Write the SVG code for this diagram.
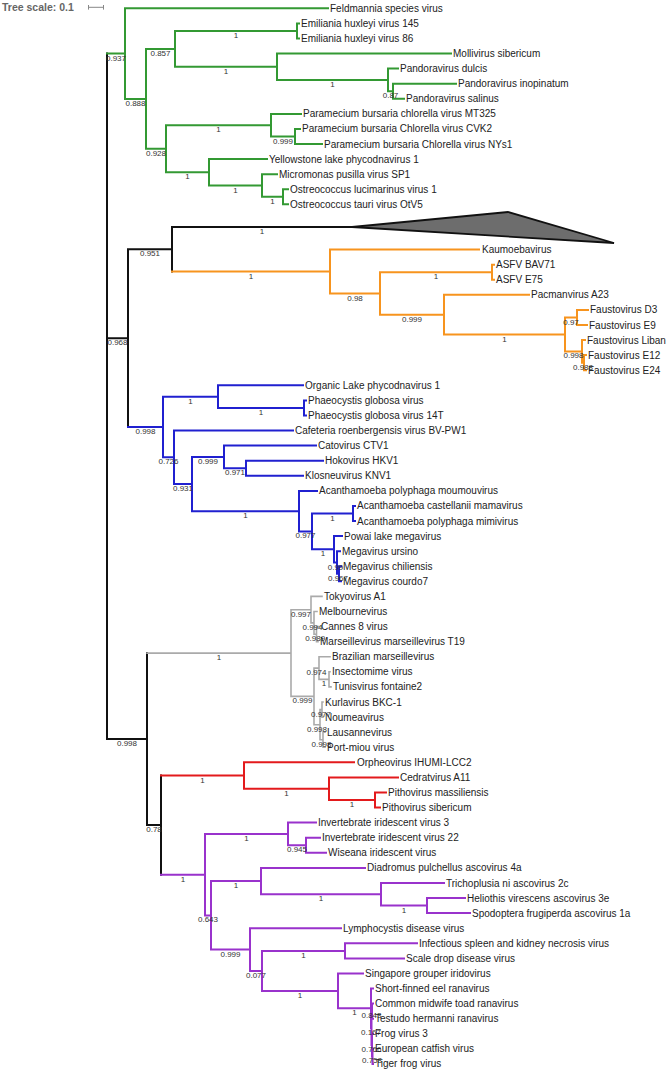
<svg xmlns="http://www.w3.org/2000/svg" width="666" height="1071" viewBox="0 0 666 1071">
<style>
.e{fill:none;stroke-width:2;stroke-linecap:square}
.k{stroke:#111}.g{stroke:#339933}.o{stroke:#f7941e}.b{stroke:#2020d0}.gr{stroke:#aaaaaa;stroke-width:1.6}.r{stroke:#e31a1c}.p{stroke:#9932cc}
.t{font-family:"Liberation Sans",Arial,sans-serif;font-size:10px;fill:#222}
.s{font-family:"Liberation Sans",Arial,sans-serif;font-size:8px;fill:#333;text-anchor:middle}
</style>
<rect width="666" height="1071" fill="#fff"/>
<g id="scale">
<text x="2" y="11" font-family="Liberation Sans,Arial,sans-serif" font-size="10.5" font-weight="bold" fill="#666">Tree scale: 0.1</text>
<path d="M88.5,7.3H103.5M88.5,5V9.6M103.5,5V9.6" stroke="#888" stroke-width="1" fill="none"/>
</g>
<g id="connectors">
<path class="e k" d="M107,53.6V739.1M107,338.2H128M128,249.3V427M128,249.3H172M172,227V271.6M172,227H352M107,739.1H147M147,653.1V825.1M147,825.1H161M161,775.5V874.7"/>
<path class="e g" d="M107,53.6H125M125,8.3V98.9M125,8.3H328M125,98.9H146M146,48.9V148.8M146,48.9H175M175,31V66.8M175,31H297M297,23.4V38.5M297,23.4H299M297,38.5H299M175,66.8H277M277,53.5V80M277,53.5H451M277,80H388M388,68.6V91.3M388,68.6H398M388,91.3H393M393,83.7V98.8M393,83.7H456M393,98.8H404M146,148.8H166M166,125.2V172.3M166,125.2H271M271,113.9V136.5M271,113.9H301M271,136.5H295M295,128.9V144M295,128.9H300M295,144H322M166,172.3H209M209,159.1V185.5M209,159.1H267M209,185.5H262M262,174.2V196.8M262,174.2H277M262,196.8H283M283,189.3V204.3M283,189.3H288M283,204.3H288"/>
<path class="e o" d="M172,271.6H330M330,249.6V293.5M330,249.6H479M330,293.5H380M380,272.2V314.7M380,272.2H492M492,264.7V279.7M492,264.7H494M492,279.7H494M380,314.7H444M444,294.8V334.5M444,294.8H529M444,334.5H565M565,317.5V351.4M565,317.5H577M577,309.9V325M577,309.9H588M577,325H587M565,351.4H582M582,340.1V362.7M582,340.1H585M582,362.7H584M584,355.1V370.2M584,355.1H586M584,370.2H586"/>
<path class="e b" d="M128,427H163M163,396.7V457.3M163,396.7H218M218,385.3V408M218,385.3H303M218,408H304M304,400.4V415.5M304,400.4H306M304,415.5H306M163,457.3H174M174,430.5V484.1M174,430.5H293M174,484.1H192M192,457V511.2M192,457H224M224,445.6V468.3M224,445.6H316M224,468.3H246M246,460.7V475.8M246,460.7H323M246,475.8H303M192,511.2H299M299,490.9V531.4M299,490.9H317M299,531.4H312M312,513.5V549.3M312,513.5H353M353,505.9V521M353,505.9H355M353,521H355M312,549.3H334M334,536.1V562.5M334,536.1H342M334,562.5H337M337,551.2V573.8M337,551.2H340M337,573.8H339M339,566.3V581.3M339,566.3H341M339,581.3H341"/>
<path class="e gr" d="M147,653.1H291M291,609.7V696.4M291,609.7H311M311,596.4V622.9M311,596.4H322M311,622.9H314M314,611.5V634.2M314,611.5H317M314,634.2H316.5M316.5,626.6V641.7M316.5,626.6H319M316.5,641.7H318M291,696.4H314M314,668.1V724.7M314,668.1H319M319,656.7V679.4M319,656.7H330M319,679.4H329M329,671.8V686.9M329,671.8H330M329,686.9H331M314,724.7H320M320,709.6V739.7M320,709.6H322M322,702V717.1M322,702H323M322,717.1H323M320,739.7H323M323,732.1V747.2M323,732.1H325M323,747.2H325"/>
<path class="e r" d="M161,775.5H244M244,762.3V788.7M244,762.3H354M244,788.7H329M329,777.4V800M329,777.4H398M329,800H375M375,792.5V807.5M375,792.5H386M375,807.5H380"/>
<path class="e p" d="M161,874.7H205M205,834V915.4M205,834H288M288,822.6V845.3M288,822.6H316M288,845.3H306M306,837.7V852.8M306,837.7H320M306,852.8H326M205,915.4H211M211,881.1V949.6M211,881.1H261M261,867.9V894.3M261,867.9H365M261,894.3H381M381,883V905.6M381,883H444M381,905.6H427M427,898V913.1M427,898H465M427,913.1H470M211,949.6H250M250,928.2V970.9M250,928.2H341M250,970.9H262M262,950.9V990.9M262,950.9H345M345,943.3V958.4M345,943.3H417M345,958.4H404M262,990.9H338M338,973.4V1008.3M338,973.4H363M338,1008.3H371M371,988.5V1028.1M371,988.5H373M371,1028.1H371.5M371.5,1011.2V1045M371.5,1011.2H372M372,1003.6V1018.7M372,1003.6H373M372,1018.7H373M371.5,1045H372M372,1033.7V1056.4M372,1033.7H373M372,1056.4H372.5M372.5,1048.8V1063.9M372.5,1048.8H373M372.5,1063.9H373"/>
</g>
<g id="collapsed-clade">
<polygon points="352,227 508,212 614,243" fill="#6d6d6d" stroke="#111" stroke-width="1.8" stroke-linejoin="miter"/>
</g>
<g id="support">
<text class="s" x="116" y="60.6">0.937</text>
<text class="s" x="135.5" y="105.9">0.888</text>
<text class="s" x="160.5" y="55.9">0.857</text>
<text class="s" x="236" y="38">1</text>
<text class="s" x="226" y="73.8">1</text>
<text class="s" x="332.5" y="87">1</text>
<text class="s" x="390.5" y="98.3">0.87</text>
<text class="s" x="156" y="155.8">0.928</text>
<text class="s" x="218.5" y="132.2">1</text>
<text class="s" x="283" y="143.5">0.999</text>
<text class="s" x="187.5" y="179.3">1</text>
<text class="s" x="235.5" y="192.5">1</text>
<text class="s" x="272.5" y="203.8">1</text>
<text class="s" x="117.5" y="345.2">0.968</text>
<text class="s" x="150" y="256.3">0.951</text>
<text class="s" x="262" y="234">1</text>
<text class="s" x="251" y="278.6">1</text>
<text class="s" x="355" y="300.5">0.98</text>
<text class="s" x="436" y="279.2">1</text>
<text class="s" x="412" y="321.7">0.999</text>
<text class="s" x="504.5" y="341.5">1</text>
<text class="s" x="571" y="324.5">0.97</text>
<text class="s" x="573.5" y="358.4">0.998</text>
<text class="s" x="583" y="369.7">0.988</text>
<text class="s" x="145.5" y="434">0.998</text>
<text class="s" x="190.5" y="403.7">1</text>
<text class="s" x="261" y="415">1</text>
<text class="s" x="168.5" y="464.3">0.726</text>
<text class="s" x="183" y="491.1">0.931</text>
<text class="s" x="208" y="464">0.999</text>
<text class="s" x="235" y="475.3">0.971</text>
<text class="s" x="245.5" y="518.2">1</text>
<text class="s" x="305.5" y="538.4">0.977</text>
<text class="s" x="332.5" y="520.5">1</text>
<text class="s" x="323" y="556.3">1</text>
<text class="s" x="335.5" y="569.5">0.99</text>
<text class="s" x="338" y="580.8">0.967</text>
<text class="s" x="219" y="660.1">1</text>
<text class="s" x="301" y="616.7">0.997</text>
<text class="s" x="312.5" y="629.9">0.994</text>
<text class="s" x="315.2" y="641.2">0.989</text>
<text class="s" x="302.5" y="703.4">0.999</text>
<text class="s" x="316.5" y="675.1">0.974</text>
<text class="s" x="324" y="686.4">1</text>
<text class="s" x="317" y="731.7">0.998</text>
<text class="s" x="321" y="716.6">0.977</text>
<text class="s" x="321.5" y="746.7">0.998</text>
<text class="s" x="127" y="746.1">0.998</text>
<text class="s" x="154" y="832.1">0.78</text>
<text class="s" x="202.5" y="782.5">1</text>
<text class="s" x="286.5" y="795.7">1</text>
<text class="s" x="352" y="807">1</text>
<text class="s" x="183" y="881.7">1</text>
<text class="s" x="246.5" y="841">1</text>
<text class="s" x="297" y="852.3">0.945</text>
<text class="s" x="208" y="922.4">0.643</text>
<text class="s" x="236" y="888.1">1</text>
<text class="s" x="321" y="901.3">1</text>
<text class="s" x="404" y="912.6">1</text>
<text class="s" x="230.5" y="956.6">0.999</text>
<text class="s" x="256" y="977.9">0.077</text>
<text class="s" x="303.5" y="957.9">1</text>
<text class="s" x="300" y="997.9">1</text>
<text class="s" x="354.5" y="1015.3">1</text>
<text class="s" x="371.5" y="1018.2">0.843</text>
<text class="s" x="371" y="1034.8">0.167</text>
<text class="s" x="371.5" y="1051.5">0.766</text>
<text class="s" x="372" y="1063.4">0.758</text>
</g>
<g id="leaves">
<g id="n01"><text class="t" x="330" y="11.8">Feldmannia species virus</text></g>
<g id="n02"><text class="t" x="301" y="26.9">Emiliania huxleyi virus 145</text></g>
<g id="n03"><text class="t" x="301" y="42">Emiliania huxleyi virus 86</text></g>
<g id="n04"><text class="t" x="453" y="57">Mollivirus sibericum</text></g>
<g id="n05"><text class="t" x="400" y="72.1">Pandoravirus dulcis</text></g>
<g id="n06"><text class="t" x="458" y="87.2">Pandoravirus inopinatum</text></g>
<g id="n07"><text class="t" x="406" y="102.3">Pandoravirus salinus</text></g>
<g id="n08"><text class="t" x="303" y="117.4">Paramecium bursaria chlorella virus MT325</text></g>
<g id="n09"><text class="t" x="302" y="132.4">Paramecium bursaria Chlorella virus CVK2</text></g>
<g id="n10"><text class="t" x="324" y="147.5">Paramecium bursaria Chlorella virus NYs1</text></g>
<g id="n11"><text class="t" x="269" y="162.6">Yellowstone lake phycodnavirus 1</text></g>
<g id="n12"><text class="t" x="279" y="177.7">Micromonas pusilla virus SP1</text></g>
<g id="n13"><text class="t" x="290" y="192.8">Ostreococcus lucimarinus virus 1</text></g>
<g id="n14"><text class="t" x="290" y="207.8">Ostreococcus tauri virus OtV5</text></g>
<g id="n15"><text class="t" x="482" y="253.1">Kaumoebavirus</text></g>
<g id="n16"><text class="t" x="496" y="268.2">ASFV BAV71</text></g>
<g id="n17"><text class="t" x="496" y="283.2">ASFV E75</text></g>
<g id="n18"><text class="t" x="531" y="298.3">Pacmanvirus A23</text></g>
<g id="n19"><text class="t" x="590" y="313.4">Faustovirus D3</text></g>
<g id="n20"><text class="t" x="589" y="328.5">Faustovirus E9</text></g>
<g id="n21"><text class="t" x="587" y="343.6">Faustovirus Liban</text></g>
<g id="n22"><text class="t" x="588" y="358.6">Faustovirus E12</text></g>
<g id="n23"><text class="t" x="588" y="373.7">Faustovirus E24</text></g>
<g id="n24"><text class="t" x="305" y="388.8">Organic Lake phycodnavirus 1</text></g>
<g id="n25"><text class="t" x="308" y="403.9">Phaeocystis globosa virus</text></g>
<g id="n26"><text class="t" x="308" y="419">Phaeocystis globosa virus 14T</text></g>
<g id="n27"><text class="t" x="295" y="434">Cafeteria roenbergensis virus BV-PW1</text></g>
<g id="n28"><text class="t" x="318" y="449.1">Catovirus CTV1</text></g>
<g id="n29"><text class="t" x="325" y="464.2">Hokovirus HKV1</text></g>
<g id="n30"><text class="t" x="305" y="479.3">Klosneuvirus KNV1</text></g>
<g id="n31"><text class="t" x="319" y="494.4">Acanthamoeba polyphaga moumouvirus</text></g>
<g id="n32"><text class="t" x="357" y="509.4">Acanthamoeba castellanii mamavirus</text></g>
<g id="n33"><text class="t" x="357" y="524.5">Acanthamoeba polyphaga mimivirus</text></g>
<g id="n34"><text class="t" x="344" y="539.6">Powai lake megavirus</text></g>
<g id="n35"><text class="t" x="342" y="554.7">Megavirus ursino</text></g>
<g id="n36"><text class="t" x="343" y="569.8">Megavirus chiliensis</text></g>
<g id="n37"><text class="t" x="343" y="584.8">Megavirus courdo7</text></g>
<g id="n38"><text class="t" x="324" y="599.9">Tokyovirus A1</text></g>
<g id="n39"><text class="t" x="319" y="615">Melbournevirus</text></g>
<g id="n40"><text class="t" x="321" y="630.1">Cannes 8 virus</text></g>
<g id="n41"><text class="t" x="320" y="645.2">Marseillevirus marseillevirus T19</text></g>
<g id="n42"><text class="t" x="332" y="660.2">Brazilian marseillevirus</text></g>
<g id="n43"><text class="t" x="332" y="675.3">Insectomime virus</text></g>
<g id="n44"><text class="t" x="333" y="690.4">Tunisvirus fontaine2</text></g>
<g id="n45"><text class="t" x="325" y="705.5">Kurlavirus BKC-1</text></g>
<g id="n46"><text class="t" x="325" y="720.6">Noumeavirus</text></g>
<g id="n47"><text class="t" x="327" y="735.6">Lausannevirus</text></g>
<g id="n48"><text class="t" x="327" y="750.7">Port-miou virus</text></g>
<g id="n49"><text class="t" x="357" y="765.8">Orpheovirus IHUMI-LCC2</text></g>
<g id="n50"><text class="t" x="400" y="780.9">Cedratvirus A11</text></g>
<g id="n51"><text class="t" x="388" y="796">Pithovirus massiliensis</text></g>
<g id="n52"><text class="t" x="382" y="811">Pithovirus sibericum</text></g>
<g id="n53"><text class="t" x="318" y="826.1">Invertebrate iridescent virus 3</text></g>
<g id="n54"><text class="t" x="322" y="841.2">Invertebrate iridescent virus 22</text></g>
<g id="n55"><text class="t" x="328" y="856.3">Wiseana iridescent virus</text></g>
<g id="n56"><text class="t" x="367" y="871.4">Diadromus pulchellus ascovirus 4a</text></g>
<g id="n57"><text class="t" x="446" y="886.5">Trichoplusia ni ascovirus 2c</text></g>
<g id="n58"><text class="t" x="467" y="901.5">Heliothis virescens ascovirus 3e</text></g>
<g id="n59"><text class="t" x="472" y="916.6">Spodoptera frugiperda ascovirus 1a</text></g>
<g id="n60"><text class="t" x="343" y="931.7">Lymphocystis disease virus</text></g>
<g id="n61"><text class="t" x="419" y="946.8">Infectious spleen and kidney necrosis virus</text></g>
<g id="n62"><text class="t" x="406" y="961.9">Scale drop disease virus</text></g>
<g id="n63"><text class="t" x="365" y="976.9">Singapore grouper iridovirus</text></g>
<g id="n64"><text class="t" x="375" y="992">Short-finned eel ranavirus</text></g>
<g id="n65"><text class="t" x="375" y="1007.1">Common midwife toad ranavirus</text></g>
<g id="n66"><text class="t" x="375" y="1022.2">Testudo hermanni ranavirus</text></g>
<g id="n67"><text class="t" x="375" y="1037.2">Frog virus 3</text></g>
<g id="n68"><text class="t" x="375" y="1052.3">European catfish virus</text></g>
<g id="n69"><text class="t" x="375" y="1067.4">Tiger frog virus</text></g>
</g>
</svg>
